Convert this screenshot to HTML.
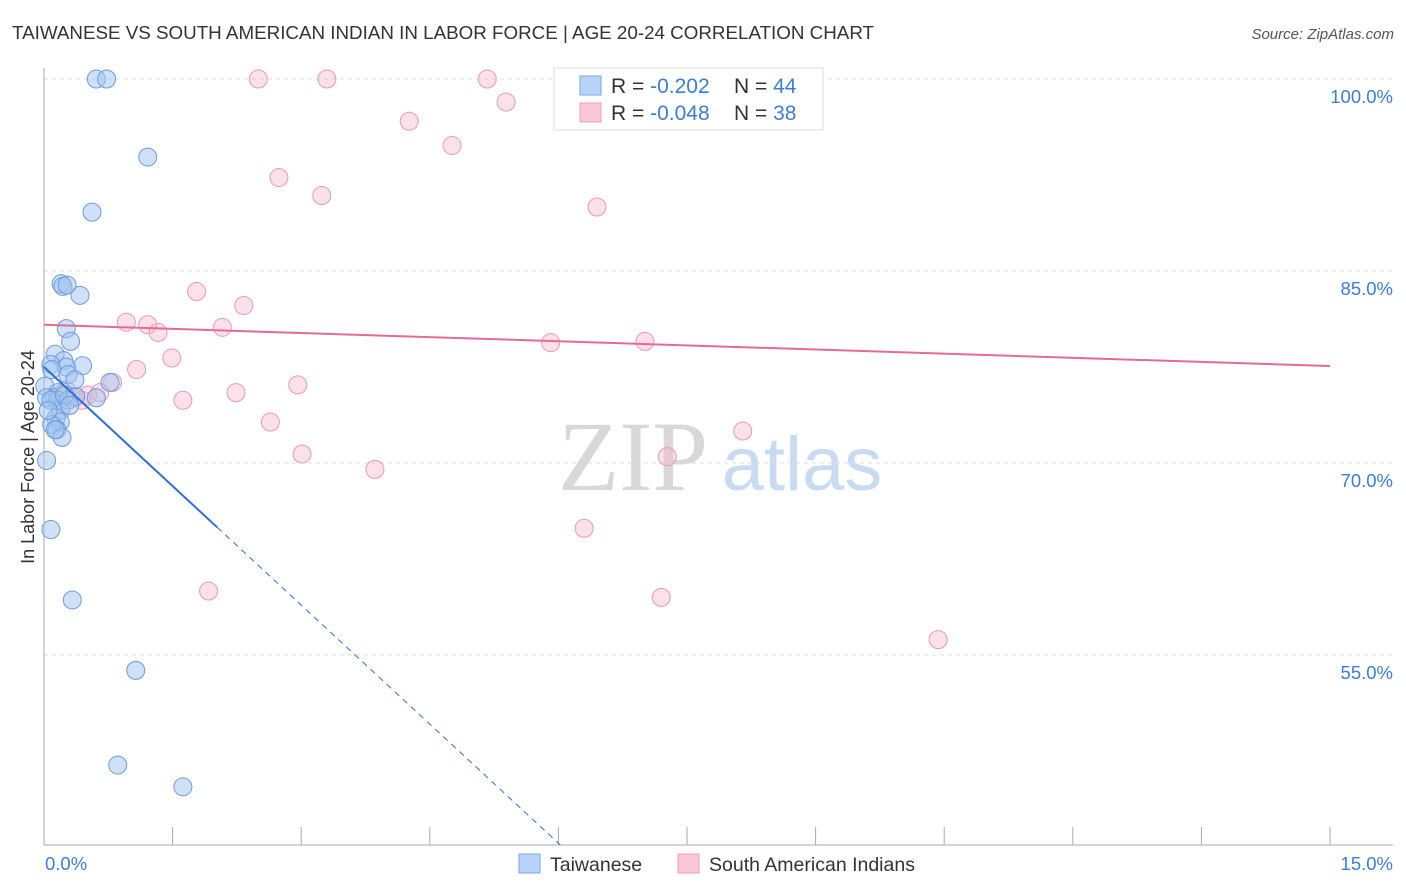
<!DOCTYPE html>
<html><head><meta charset="utf-8"><style>
body{margin:0;background:#fff;font-family:"Liberation Sans",sans-serif;}
svg{display:block}
</style></head><body>
<svg id="c" width="1406" height="892">
<text x="12" y="39" font-size="18.8" fill="#333">TAIWANESE VS SOUTH AMERICAN INDIAN IN LABOR FORCE | AGE 20-24 CORRELATION CHART</text>
<text x="1394" y="39" font-size="15" fill="#555" text-anchor="end" font-style="italic">Source: ZipAtlas.com</text>
<text x="633" y="490" font-size="100" fill="#d8d8d8" font-family="Liberation Serif,serif" text-anchor="middle">ZIP</text>
<text x="802" y="490" font-size="76" fill="#c9dbf3" text-anchor="middle">atlas</text>
<text transform="translate(34,457) rotate(-90)" font-size="18" fill="#333" text-anchor="middle">In Labor Force | Age 20-24</text>
<g id="grid"></g><g id="marks"></g>
<g>
<rect x="554" y="68" width="269" height="62" fill="#fff" stroke="#ddd"/>
<rect x="580" y="76" width="21" height="19" fill="#b7d3f7" stroke="#7aa8e8"/>
<rect x="580" y="103" width="21" height="19" fill="#fbc7d6" stroke="#ec9fb8"/>
<text x="611" y="93" font-size="21" fill="#333">R = <tspan fill="#3d7dd8">-0.202</tspan></text>
<text x="734" y="93" font-size="21" fill="#333">N = <tspan fill="#3d7dd8">44</tspan></text>
<text x="611" y="120" font-size="21" fill="#333">R = <tspan fill="#3d7dd8">-0.048</tspan></text>
<text x="734" y="120" font-size="21" fill="#333">N = <tspan fill="#3d7dd8">38</tspan></text>
</g>
<g>
<rect x="519" y="854" width="21" height="19" fill="#b7d3f7" stroke="#7aa8e8"/>
<text x="550" y="871" font-size="19.5" fill="#333">Taiwanese</text>
<rect x="678" y="854" width="21" height="19" fill="#fbc7d6" stroke="#ec9fb8"/>
<text x="709" y="871" font-size="19.5" fill="#333">South American Indians</text>
</g>
</svg>
<script>
const yTicks=[100,85,70,55];
const xTickLabels=["0.0%","15.0%"];
const blueX=[0.61,0.73,1.21,0.56,0.20,0.22,0.27,0.42,0.26,0.31,0.13,0.23,0.08,0.45,0.26,0.28,0.01,0.77,0.16,0.12,0.03,0.16,0.28,0.37,0.61,0.19,0.14,0.19,0.09,0.15,0.21,0.03,0.08,0.33,1.07,0.86,1.62,0.08,0.13,0.24,0.30,0.05,0.09,0.36];
const blueY=[100,100,93.9,89.6,84.0,83.8,83.9,83.1,80.5,79.5,78.5,78.0,77.7,77.6,77.5,76.9,76.0,76.3,75.5,75.1,75.1,74.9,74.9,75.2,75.1,74.1,73.5,73.2,73.0,72.6,72.0,70.2,64.8,59.3,53.8,46.4,44.7,74.9,72.6,75.3,74.5,74.1,77.3,76.5];
const pinkX=[2.50,3.30,5.17,5.39,4.26,4.76,2.74,3.24,6.45,1.78,2.33,0.96,1.21,1.33,2.08,5.91,7.01,1.49,1.08,0.80,2.96,2.24,1.62,0.51,0.26,0.35,2.64,3.01,8.15,7.27,3.86,6.30,1.92,7.20,10.43,0.19,0.65,0.44];
const pinkY=[100,100,100,98.2,96.7,94.8,92.3,90.9,90.0,83.4,82.3,81.0,80.8,80.2,80.6,79.4,79.5,78.2,77.3,76.3,76.1,75.5,74.9,75.3,75.7,75.1,73.2,70.7,72.5,70.5,69.5,64.9,60.0,59.5,56.2,75.3,75.5,74.9];
const blueTrend=[77.5,-6.2];
const pinkTrend=[80.8,-0.215];
const NS="http://www.w3.org/2000/svg";
const X0=44,X1=1330,Y100=79,PPY=12.8;
const sx=v=>X0+v*(X1-X0)/15;
const sy=v=>Y100+(100-v)*PPY;
const grid=document.getElementById('grid'),marks=document.getElementById('marks');
function mk(tag,at,parent){const e=document.createElementNS(NS,tag);for(const k in at)e.setAttribute(k,at[k]);parent.appendChild(e);return e;}
yTicks.forEach(t=>{
 const l=mk('line',{x1:X0,x2:1393,y1:sy(t),y2:sy(t),stroke:'#ddd','stroke-dasharray':'4,4'},grid);
 
 
 const tx=mk('text',{x:1393,y:sy(t)+24,'font-size':18.5,fill:'#3d7dd8','text-anchor':'end'},grid);
 tx.textContent=t.toFixed(1)+'%';
 
 
});
const ax=mk('line',{x1:X0,x2:X0,y1:68,y2:845,stroke:'#aaa'},grid);


const bx=mk('line',{x1:X0,x2:1393,y1:845,y2:845,stroke:'#aaa'},grid);


for(let i=1;i<=10;i++){const v=i*1.5;const t=mk('line',{x1:sx(v),x2:sx(v),y1:827,y2:845,stroke:'#aaa'},grid);
 
 }
[[0,xTickLabels[0],'start',45],[15,xTickLabels[1],'end',1393]].forEach(a=>{const t=mk('text',{x:a[3],y:870,'font-size':18.5,fill:'#3d7dd8','text-anchor':a[2]},grid);t.textContent=a[1];
 
 });
function dots(xs,ys,fill,stroke,name){xs.forEach((x,i)=>{const c=mk('circle',{cx:sx(x),cy:sy(ys[i]),r:9,fill:fill,stroke:stroke,'stroke-width':1},marks);
 
 });}
dots(pinkX,pinkY,'rgba(248,180,200,0.4)','#e99ab4','point-south-american-indians');
dots(blueX,blueY,'rgba(160,196,240,0.5)','#6a9be0','point-taiwanese');
const bf=v=>blueTrend[0]+blueTrend[1]*v;
const xEnd=(blueTrend[0]-40.16)/-blueTrend[1];
const b1=mk('line',{x1:sx(0),y1:sy(bf(0)),x2:sx(2.02),y2:sy(bf(2.02)),stroke:'#2d6fd6','stroke-width':2},marks);


const b2=mk('line',{x1:sx(2.02),y1:sy(bf(2.02)),x2:sx(xEnd),y2:sy(bf(xEnd)),stroke:'#2d6fd6','stroke-width':1,'stroke-dasharray':'6,5'},marks);


const pf=v=>pinkTrend[0]+pinkTrend[1]*v;
const p1=mk('line',{x1:sx(0),y1:sy(pf(0)),x2:sx(15),y2:sy(pf(15)),stroke:'#e36b96','stroke-width':2},marks);


</script>
</body></html>
